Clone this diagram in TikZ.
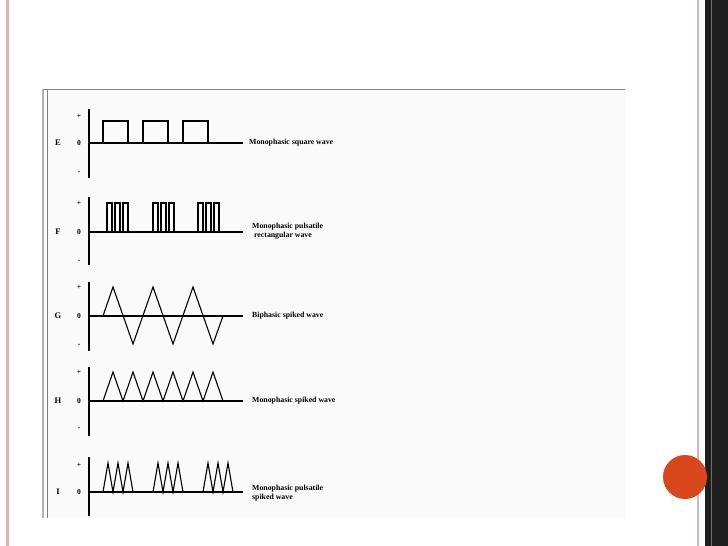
\documentclass[tikz,border=0pt]{standalone}
\usepackage{fontspec}
\setmainfont{Liberation Serif}
\definecolor{slideor}{HTML}{D9481C}
\definecolor{slidepk}{HTML}{E0B4B4}
\begin{document}
\begin{tikzpicture}[x=1pt,y=-1pt,
  wv/.style={line width=1.1pt,line join=miter},
  ax/.style={line width=1.2pt},
  lbl/.style={font=\bfseries\fontsize{7.8}{9}\selectfont,anchor=west,inner sep=0pt,align=left},
  sym/.style={font=\bfseries\fontsize{7.5}{8}\selectfont,inner sep=0pt},
  let/.style={font=\bfseries\fontsize{8.5}{9}\selectfont,inner sep=0pt}]
\useasboundingbox (0,0) rectangle (728,546);
\fill[white] (0,0) rectangle (728,546);
% slide decorations
\fill[slidepk] (6,0) rectangle (8.5,546);
\fill[slidepk] (696.5,0) rectangle (699,546);
\fill[black!88] (705,0) rectangle (728,546);
\draw[slideor,line width=0.7pt] (711,0) -- (711,546);
\fill[black!2] (47,89) rectangle (625,518);
\draw[gray,line width=1pt] (44,89) -- (625,89);
\draw[gray!60,line width=1.5pt] (43,89) -- (43,518);
\draw[gray,line width=0.8pt] (47,89) -- (47,518);
\fill[slideor] (685,477) circle (22);
% E
\draw[ax] (89,109) -- (89,178);
\draw[ax] (89,143) -- (243,143);
\node[let] (E) at (58,143) {E};
\node[sym] (Ep) at (79,116) {+}; \node[sym] (E0) at (79,143) {0}; \node[sym] (Em) at (79,172) {-};
\draw[wv] (103,143) -- (103,121) -- (128,121) -- (128,143) (143,143) -- (143,121) -- (168,121) -- (168,143) (183,143) -- (183,121) -- (208,121) -- (208,143);
\node[lbl] (Et) at (249,143) {Monophasic square wave};
% F
\draw[ax] (89,197) -- (89,265);
\draw[ax] (89,232) -- (243,232);
\node[let] (F) at (58,232) {F};
\node[sym] (Fp) at (79,203) {+}; \node[sym] (F0) at (79,232) {0}; \node[sym] (Fm) at (79,261) {-};
\foreach \g in {107,153,198}{
  \foreach \k in {0,8,16}{
    \draw[wv] (\g+\k,232) -- (\g+\k,203) -- (\g+\k+5,203) -- (\g+\k+5,232);
  }}
\node[lbl] (Ft) at (252,231) {Monophasic pulsatile\\\ rectangular wave};
% G
\draw[ax] (89,282) -- (89,351);
\draw[ax] (89,316) -- (243,316);
\node[let] (G) at (58,316) {G};
\node[sym] (Gp) at (79,287) {+}; \node[sym] (G0) at (79,316) {0}; \node[sym] (Gm) at (79,345) {-};
\draw[wv] (103,316) -- (113,287) -- (133,344) -- (153,287) -- (173,344) -- (193,287) -- (213,344) -- (223,316);
\node[lbl] (Gt) at (252,316) {Biphasic spiked wave};
% H
\draw[ax] (89,367) -- (89,436);
\draw[ax] (89,401) -- (243,401);
\node[let] (H) at (58,401) {H};
\node[sym] (Hp) at (79,372) {+}; \node[sym] (H0) at (79,401) {0}; \node[sym] (Hm) at (79,428) {-};
\draw[wv] (103,401) -- (113,372) -- (123,401) -- (133,372) -- (143,401) -- (153,372) -- (163,401) -- (173,372) -- (183,401) -- (193,372) -- (203,401) -- (213,372) -- (223,401);
\node[lbl] (Ht) at (252,401) {Monophasic spiked wave};
% I
\draw[ax] (89,457) -- (89,516);
\draw[ax] (89,492) -- (243,492);
\node[let] (I) at (58,492) {I};
\node[sym] (Ip) at (79,465) {+}; \node[sym] (I0) at (79,492) {0};
\foreach \g in {103,153,203}{
  \draw[wv] (\g,492) -- (\g+5,463) -- (\g+10,492) -- (\g+15,463) -- (\g+20,492) -- (\g+25,463) -- (\g+30,492);
}
\node[lbl] (It) at (252,493) {Monophasic pulsatile\\spiked wave};
\end{tikzpicture}
\end{document}
